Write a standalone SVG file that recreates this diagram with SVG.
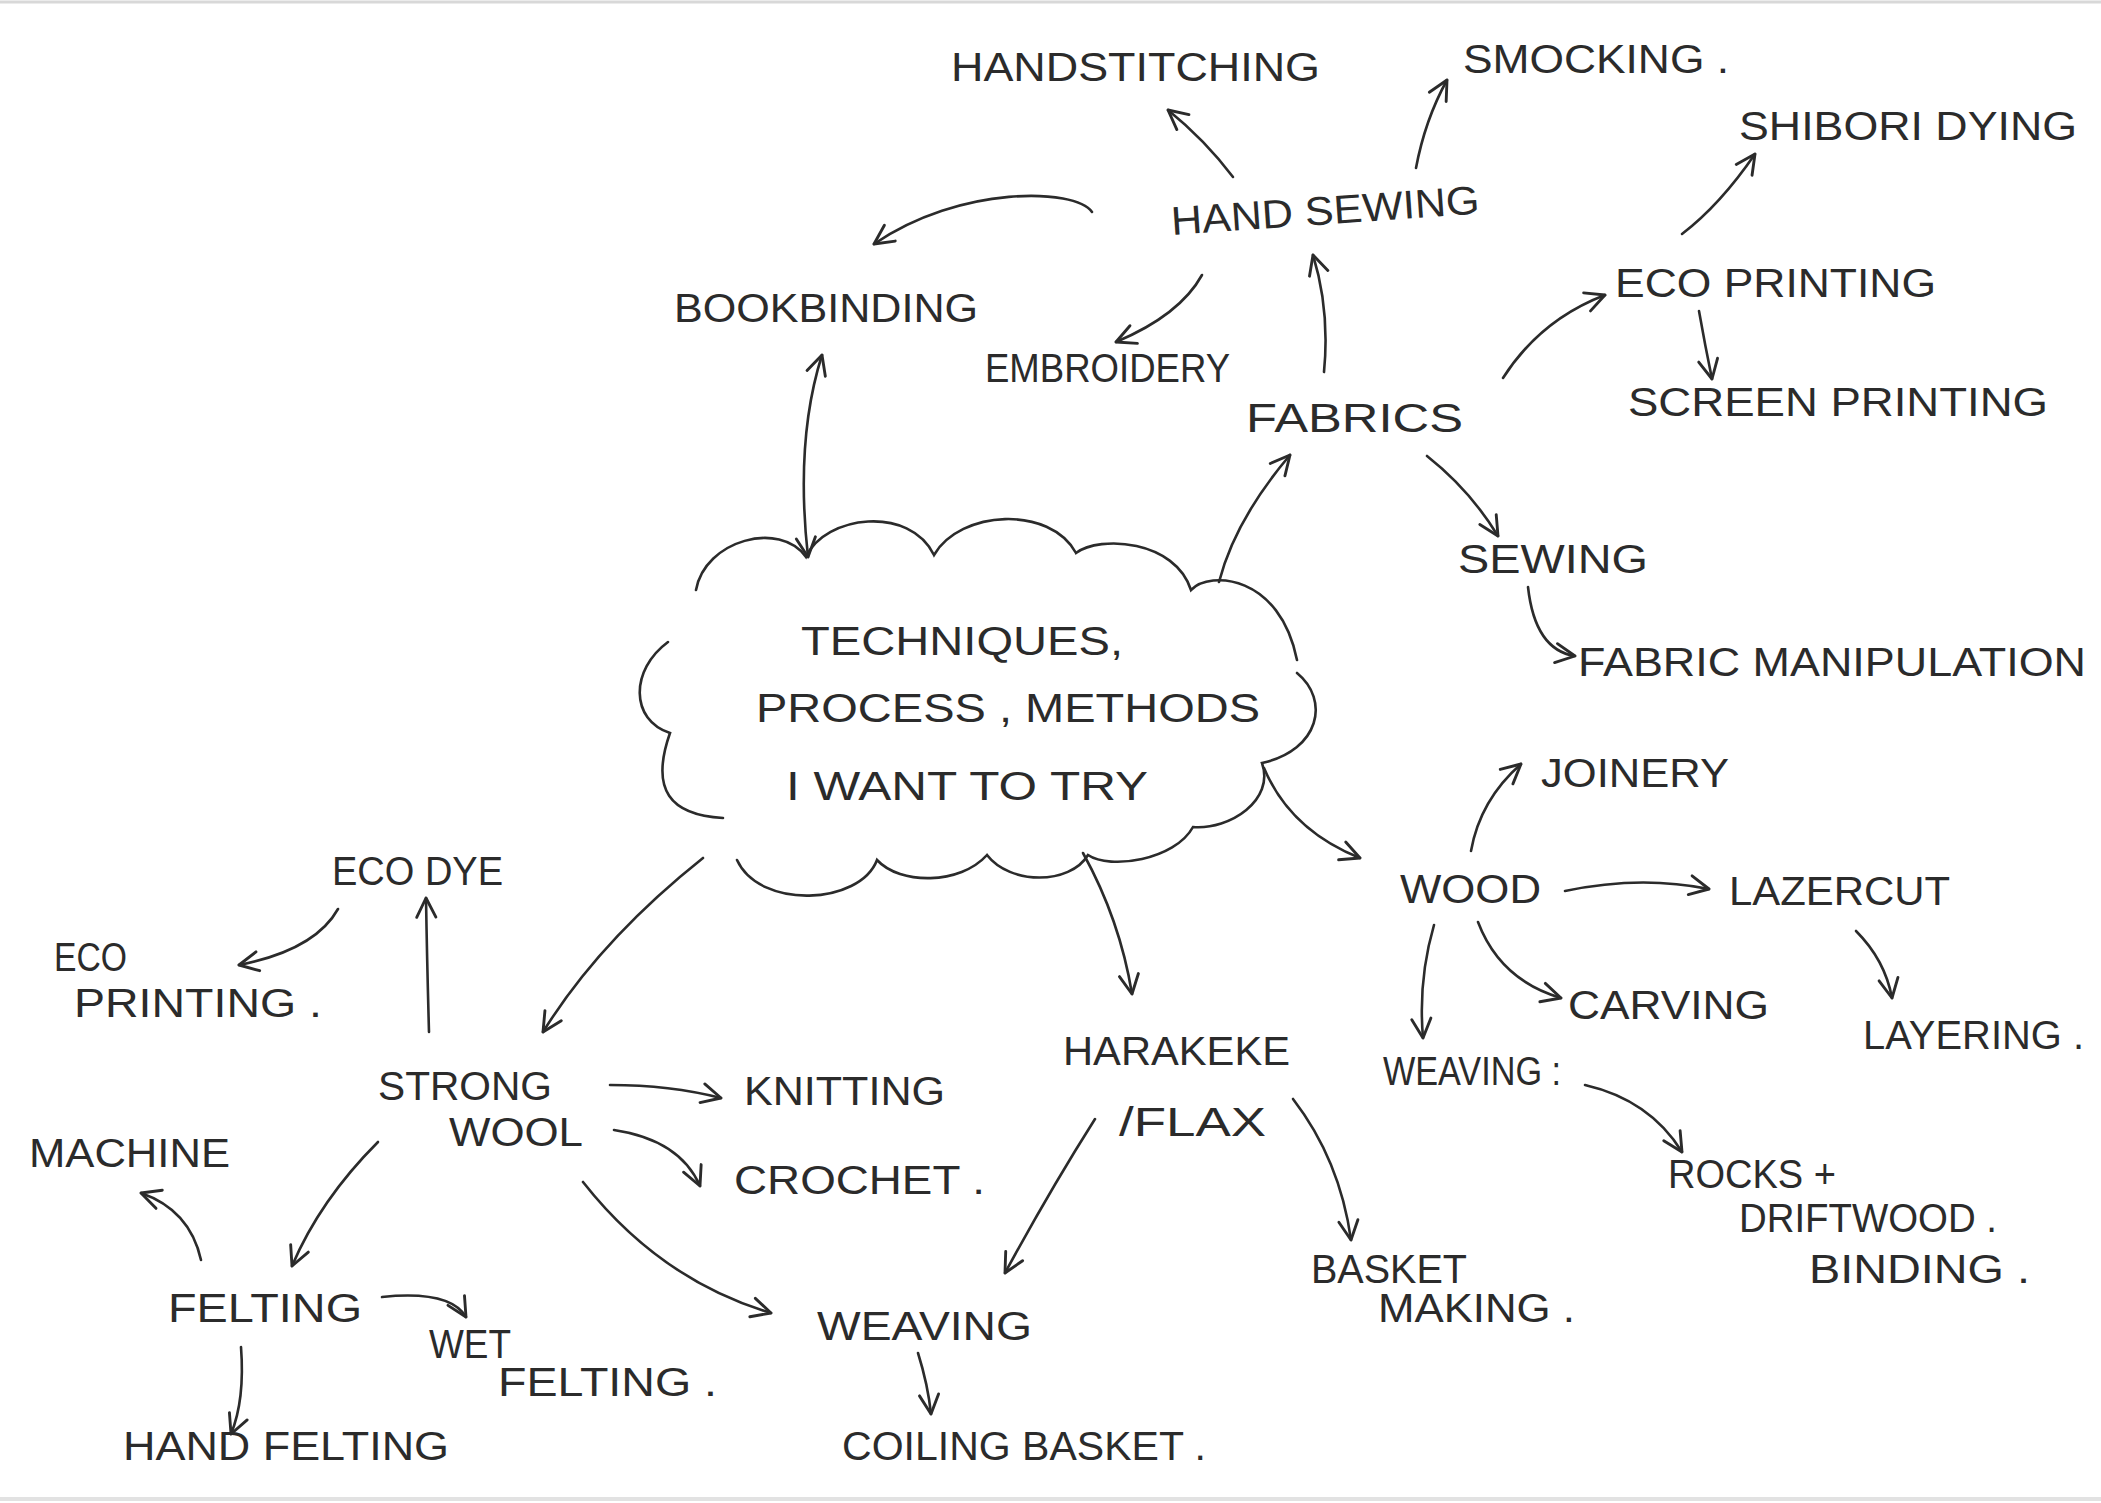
<svg xmlns="http://www.w3.org/2000/svg" width="2101" height="1503" viewBox="0 0 2101 1503">
<defs>
<style>
.t{font-family:"Liberation Sans",Arial,sans-serif;font-size:40px;fill:#2b2b2b;}
.c{fill:none;stroke:#2b2b2b;stroke-width:2.6;stroke-linecap:round;}
.e{fill:none;stroke:#2b2b2b;stroke-width:2.6;stroke-linecap:round;}
</style>
<marker id="a" viewBox="0 0 20 20" refX="18" refY="10" markerWidth="24" markerHeight="24" markerUnits="userSpaceOnUse" orient="auto-start-reverse">
<path d="M2,2 L18,10 L2,18" fill="none" stroke="#2b2b2b" stroke-width="2.4" stroke-linecap="round" stroke-linejoin="round"/>
</marker>
</defs>
<rect width="2101" height="1503" fill="#ffffff"/>
<g id="paper">
<line x1="0" y1="2" x2="2101" y2="2" stroke="#d8d8d8" stroke-width="3"/>
<line x1="0" y1="1499" x2="2101" y2="1499" stroke="#e2e2e2" stroke-width="4"/>
</g>
<g id="cloud">
<path class="e" d="M696,590 C705,540 780,520 806,557 C825,515 910,505 934,555 C960,510 1050,505 1076,553 C1100,535 1175,540 1191,590 C1210,570 1280,575 1297,660"/>
<path class="e" d="M1297,673 C1330,700 1320,750 1262,763 C1275,800 1230,830 1193,827 C1175,860 1110,870 1088,855 C1070,885 1010,885 987,855 C960,885 900,885 877,860 C860,905 760,910 737,860"/>
<path class="e" d="M723,818 C670,815 650,790 670,733 C630,720 630,670 668,642"/>
<text class="t" x="801" y="655" textLength="322" lengthAdjust="spacingAndGlyphs">TECHNIQUES,</text>
<text class="t" x="756" y="722" textLength="504" lengthAdjust="spacingAndGlyphs">PROCESS , METHODS</text>
<text class="t" x="786" y="800" textLength="362" lengthAdjust="spacingAndGlyphs">I WANT TO TRY</text>
</g>
<g id="n-handstitching"><text class="t" x="951" y="81" textLength="369" lengthAdjust="spacingAndGlyphs">HANDSTITCHING</text></g>
<g id="n-smocking"><text class="t" x="1463" y="73" textLength="266" lengthAdjust="spacingAndGlyphs">SMOCKING .</text></g>
<g id="n-shibori"><text class="t" x="1739" y="140" textLength="338" lengthAdjust="spacingAndGlyphs">SHIBORI DYING</text></g>
<g id="n-handsewing"><text class="t" x="1172" y="235" textLength="309" lengthAdjust="spacingAndGlyphs" transform="rotate(-4 1172 235)">HAND SEWING</text></g>
<g id="n-bookbinding"><text class="t" x="674" y="322" textLength="304" lengthAdjust="spacingAndGlyphs">BOOKBINDING</text></g>
<g id="n-embroidery"><text class="t" x="985" y="382" textLength="245" lengthAdjust="spacingAndGlyphs">EMBROIDERY</text></g>
<g id="n-ecoprinting-top"><text class="t" x="1615" y="297" textLength="321" lengthAdjust="spacingAndGlyphs">ECO PRINTING</text></g>
<g id="n-screenprinting"><text class="t" x="1628" y="416" textLength="420" lengthAdjust="spacingAndGlyphs">SCREEN PRINTING</text></g>
<g id="n-fabrics"><text class="t" x="1246" y="432" textLength="217" lengthAdjust="spacingAndGlyphs">FABRICS</text></g>
<g id="n-sewing"><text class="t" x="1458" y="573" textLength="190" lengthAdjust="spacingAndGlyphs">SEWING</text></g>
<g id="n-fabricmanip"><text class="t" x="1578" y="676" textLength="508" lengthAdjust="spacingAndGlyphs">FABRIC MANIPULATION</text></g>
<g id="n-joinery"><text class="t" x="1541" y="787" textLength="188" lengthAdjust="spacingAndGlyphs">JOINERY</text></g>
<g id="n-wood"><text class="t" x="1400" y="903" textLength="141" lengthAdjust="spacingAndGlyphs">WOOD</text></g>
<g id="n-lazercut"><text class="t" x="1729" y="905" textLength="221" lengthAdjust="spacingAndGlyphs">LAZERCUT</text></g>
<g id="n-carving"><text class="t" x="1568" y="1019" textLength="201" lengthAdjust="spacingAndGlyphs">CARVING</text></g>
<g id="n-layering"><text class="t" x="1863" y="1049" textLength="221" lengthAdjust="spacingAndGlyphs">LAYERING .</text></g>
<g id="n-weaving-wood"><text class="t" x="1383" y="1085" textLength="178" lengthAdjust="spacingAndGlyphs">WEAVING :</text></g>
<g id="n-rocks"><text class="t" x="1668" y="1188" textLength="168" lengthAdjust="spacingAndGlyphs">ROCKS +</text><text class="t" x="1739" y="1232" textLength="258" lengthAdjust="spacingAndGlyphs">DRIFTWOOD .</text></g>
<g id="n-binding"><text class="t" x="1809" y="1283" textLength="221" lengthAdjust="spacingAndGlyphs">BINDING .</text></g>
<g id="n-harakeke"><text class="t" x="1063" y="1065" textLength="227" lengthAdjust="spacingAndGlyphs">HARAKEKE</text><text class="t" x="1119" y="1136" textLength="147" lengthAdjust="spacingAndGlyphs">/FLAX</text></g>
<g id="n-basket"><text class="t" x="1311" y="1283" textLength="156" lengthAdjust="spacingAndGlyphs">BASKET</text><text class="t" x="1378" y="1322" textLength="197" lengthAdjust="spacingAndGlyphs">MAKING .</text></g>
<g id="n-knitting"><text class="t" x="744" y="1105" textLength="201" lengthAdjust="spacingAndGlyphs">KNITTING</text></g>
<g id="n-crochet"><text class="t" x="734" y="1194" textLength="251" lengthAdjust="spacingAndGlyphs">CROCHET .</text></g>
<g id="n-strongwool"><text class="t" x="378" y="1100" textLength="174" lengthAdjust="spacingAndGlyphs">STRONG</text><text class="t" x="449" y="1146" textLength="134" lengthAdjust="spacingAndGlyphs">WOOL</text></g>
<g id="n-ecodye"><text class="t" x="332" y="885" textLength="171" lengthAdjust="spacingAndGlyphs">ECO DYE</text></g>
<g id="n-ecoprinting-left"><text class="t" x="54" y="971" textLength="73" lengthAdjust="spacingAndGlyphs">ECO</text><text class="t" x="74" y="1017" textLength="248" lengthAdjust="spacingAndGlyphs">PRINTING .</text></g>
<g id="n-machine"><text class="t" x="29" y="1167" textLength="201" lengthAdjust="spacingAndGlyphs">MACHINE</text></g>
<g id="n-felting"><text class="t" x="168" y="1322" textLength="194" lengthAdjust="spacingAndGlyphs">FELTING</text></g>
<g id="n-wetfelting"><text class="t" x="429" y="1358" textLength="82" lengthAdjust="spacingAndGlyphs">WET</text><text class="t" x="498" y="1396" textLength="219" lengthAdjust="spacingAndGlyphs">FELTING .</text></g>
<g id="n-handfelting"><text class="t" x="123" y="1460" textLength="326" lengthAdjust="spacingAndGlyphs">HAND FELTING</text></g>
<g id="n-weaving"><text class="t" x="817" y="1340" textLength="215" lengthAdjust="spacingAndGlyphs">WEAVING</text></g>
<g id="n-coiling"><text class="t" x="842" y="1460" textLength="364" lengthAdjust="spacingAndGlyphs">COILING BASKET .</text></g>
<g id="connectors">
<path class="c" marker-end="url(#a)" d="M1233,177 Q1205,140 1168,110"/>
<path class="c" marker-end="url(#a)" d="M1416,168 Q1425,120 1447,80"/>
<path class="c" marker-end="url(#a)" d="M1092,212 C1075,188 960,185 874,244"/>
<path class="c" marker-end="url(#a)" d="M1202,275 Q1180,315 1116,342"/>
<path class="c" marker-end="url(#a)" d="M1324,372 Q1330,310 1313,255"/>
<path class="c" marker-start="url(#a)" marker-end="url(#a)" d="M808,557 Q795,440 822,355"/>
<path class="c" marker-end="url(#a)" d="M1219,582 Q1235,520 1290,455"/>
<path class="c" marker-end="url(#a)" d="M1503,378 Q1540,320 1605,295"/>
<path class="c" marker-end="url(#a)" d="M1682,234 Q1720,205 1755,154"/>
<path class="c" marker-end="url(#a)" d="M1699,311 Q1705,345 1712,379"/>
<path class="c" marker-end="url(#a)" d="M1427,456 Q1470,490 1498,536"/>
<path class="c" marker-end="url(#a)" d="M1528,587 Q1535,650 1575,656"/>
<path class="c" marker-end="url(#a)" d="M1264,768 Q1290,830 1360,858"/>
<path class="c" marker-end="url(#a)" d="M1471,851 Q1480,800 1521,764"/>
<path class="c" marker-end="url(#a)" d="M1565,891 Q1640,875 1709,889"/>
<path class="c" marker-end="url(#a)" d="M1856,931 Q1885,960 1892,998"/>
<path class="c" marker-end="url(#a)" d="M1478,922 Q1500,980 1561,998"/>
<path class="c" marker-end="url(#a)" d="M1434,925 Q1418,980 1423,1038"/>
<path class="c" marker-end="url(#a)" d="M1585,1085 Q1650,1100 1682,1152"/>
<path class="c" marker-end="url(#a)" d="M1083,853 Q1120,920 1132,994"/>
<path class="c" marker-end="url(#a)" d="M703,858 Q600,940 543,1032"/>
<path class="c" marker-end="url(#a)" d="M429,1032 Q427,960 426,898"/>
<path class="c" marker-end="url(#a)" d="M338,909 Q315,950 239,965"/>
<path class="c" marker-end="url(#a)" d="M610,1085 Q670,1085 721,1098"/>
<path class="c" marker-end="url(#a)" d="M614,1130 Q680,1140 700,1186"/>
<path class="c" marker-end="url(#a)" d="M378,1142 Q320,1200 292,1266"/>
<path class="c" marker-end="url(#a)" d="M583,1182 Q660,1280 771,1313"/>
<path class="c" marker-end="url(#a)" d="M201,1260 Q190,1210 141,1193"/>
<path class="c" marker-end="url(#a)" d="M382,1297 Q450,1290 466,1317"/>
<path class="c" marker-end="url(#a)" d="M241,1347 Q245,1400 231,1434"/>
<path class="c" marker-end="url(#a)" d="M1095,1119 Q1050,1190 1005,1273"/>
<path class="c" marker-end="url(#a)" d="M1293,1099 Q1340,1160 1351,1240"/>
<path class="c" marker-end="url(#a)" d="M918,1353 Q928,1385 931,1414"/>
</g>
</svg>
